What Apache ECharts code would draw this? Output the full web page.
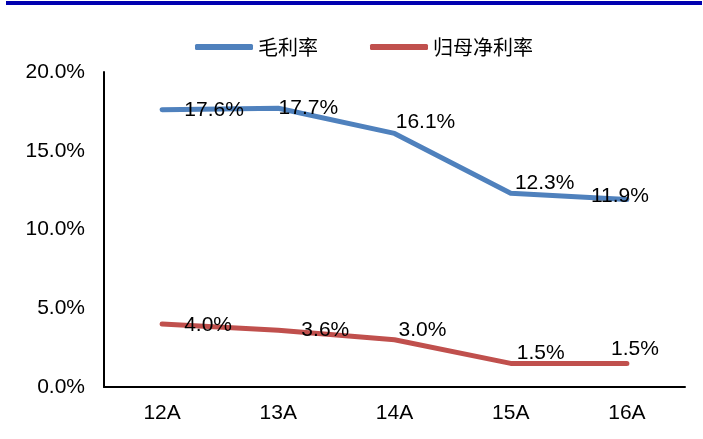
<!DOCTYPE html>
<html>
<head>
<meta charset="utf-8">
<script src="https://cdn.jsdelivr.net/npm/echarts@6/dist/echarts.min.js"></script>
<style>
html,body{margin:0;padding:0;background:#fff;}
#c{width:703px;height:439px;}
</style>
</head>
<body>
<div id="c"></div>
<script>
var categories = ['12A', '13A', '14A', '15A', '16A'];
var grossMargin = [17.6, 17.7, 16.1, 12.3, 11.9];
var netMargin = [4.0, 3.6, 3.0, 1.5, 1.5];
var seriesNames = ['毛利率', '归母净利率'];

// label offsets (style only)
var grossOffsets = [[52, 0], [30, 0], [31, -11], [34, -10], [-7, -3]];
var netOffsets = [[46, 1], [47, 0], [28, -10], [30, -10], [8, -14]];

var numFont = 'Liberation Sans, Arial, sans-serif';

function buildData(vals, offs) {
  return vals.map(function (v, i) {
    return {
      value: v,
      label: { offset: offs[i] }
    };
  });
}

var chart = echarts.init(document.getElementById('c'), null, { renderer: 'canvas' });
chart.setOption({
  animation: false,
  backgroundColor: '#ffffff',
  graphic: [{
    type: 'rect',
    shape: { x: 6, y: 1, width: 696, height: 4 },
    style: { fill: '#0000B0' }
  }],
  legend: {
    top: 32,
    left: 190,
    itemWidth: 58,
    itemHeight: 6,
    itemGap: 52,
    icon: 'roundRect',
    textStyle: { fontFamily: 'Noto Sans CJK SC', fontSize: 20, color: '#000' },
    data: seriesNames
  },
  grid: { left: 104, right: 18, top: 72, bottom: 52, containLabel: false },
  xAxis: {
    type: 'category',
    data: categories,
    boundaryGap: true,
    axisLine: { lineStyle: { color: '#000', width: 2 } },
    axisTick: { show: false },
    axisLabel: { color: '#000', fontSize: 21, fontFamily: numFont, margin: 16 }
  },
  yAxis: {
    type: 'value',
    min: 0, max: 20, interval: 5,
    axisLine: { show: true, lineStyle: { color: '#000', width: 2 } },
    axisTick: { show: false },
    splitLine: { show: false },
    axisLabel: {
      color: '#000', fontSize: 21, fontFamily: numFont, margin: 19,
      formatter: function (v) { return v.toFixed(1) + '%'; }
    }
  },
  series: [{
    name: seriesNames[0],
    type: 'line',
    data: buildData(grossMargin, grossOffsets),
    symbol: 'circle',
    symbolSize: 0,
    showSymbol: true,
    itemStyle: { color: '#4F81BD' },
    lineStyle: { color: '#4F81BD', width: 5, cap: 'round', join: 'round' },
    label: {
      show: true, position: 'inside', color: '#000', fontSize: 21, fontFamily: numFont,
      formatter: function (p) { return p.value.toFixed(1) + '%'; }
    },
    z: 2
  }, {
    name: seriesNames[1],
    type: 'line',
    data: buildData(netMargin, netOffsets),
    symbol: 'circle',
    symbolSize: 0,
    showSymbol: true,
    itemStyle: { color: '#C0504D' },
    lineStyle: { color: '#C0504D', width: 5, cap: 'round', join: 'round' },
    label: {
      show: true, position: 'inside', color: '#000', fontSize: 21, fontFamily: numFont,
      formatter: function (p) { return p.value.toFixed(1) + '%'; }
    },
    z: 2
  }]
});
</script>
</body>
</html>
